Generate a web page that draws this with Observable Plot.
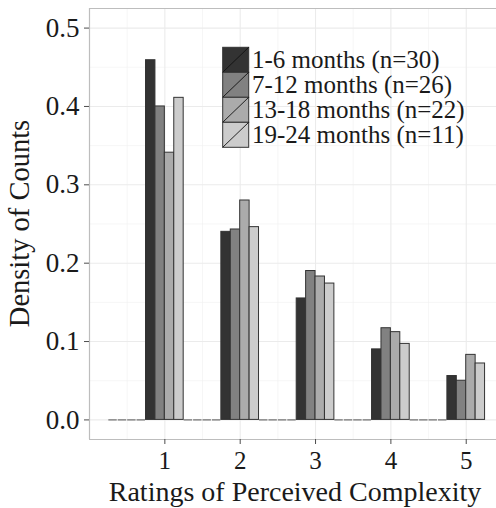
<!DOCTYPE html>
<html><head><meta charset="utf-8">
<script src="https://cdn.jsdelivr.net/npm/d3@7"></script>
<script src="https://cdn.jsdelivr.net/npm/@observablehq/plot@0.6"></script>
<style>body{margin:0;background:#fff} #chart{position:relative;width:496px;height:508px;overflow:hidden}</style>
</head><body><div id="chart"></div>
<script>
// ---- data ----
const ratings = [1, 2, 3, 4, 5];
const groups = ["1-6 months (n=30)", "7-12 months (n=26)", "13-18 months (n=22)", "19-24 months (n=11)"];
const density_1_6   = [0.459, 0.240, 0.155, 0.090, 0.056];
const density_7_12  = [0.400, 0.243, 0.190, 0.117, 0.050];
const density_13_18 = [0.341, 0.280, 0.183, 0.112, 0.083];
const density_19_24 = [0.411, 0.246, 0.174, 0.097, 0.072];
const emptyBins = [0.5, 1.5, 2.5, 3.5, 4.5];
const yTicks = [0, 0.1, 0.2, 0.3, 0.4, 0.5];
const yMinor = [0.05, 0.15, 0.25, 0.35, 0.45];
const xMinor = [0.5, 1.5, 2.5, 3.5, 4.5, 5.5];
const fills = ["#333333", "#818181", "#ABABAB", "#CCCCCC"];
const binWidth = 0.5;

// ---- tables ----
const series = [density_1_6, density_7_12, density_13_18, density_19_24];
const sub = binWidth / groups.length;
const bars = [];
ratings.forEach((r, ri) => series.forEach((vals, gi) => {
  bars.push({group: groups[gi], x1: r - binWidth / 2 + gi * sub, x2: r - binWidth / 2 + (gi + 1) * sub, value: vals[ri]});
}));
const zeroBars = [];
emptyBins.forEach(c => groups.forEach((g, gi) => {
  zeroBars.push({group: g, x1: c - binWidth / 2 + gi * sub, x2: c - binWidth / 2 + (gi + 1) * sub});
}));

const W = 496, H = 508;
const plot = Plot.plot({
  width: W, height: H,
  marginLeft: 89, marginTop: 8, marginBottom: 69, marginRight: 0,
  x: {domain: [0, 5.5], range: [89, 503.4]},
  y: {domain: [-0.025, 0.525], range: [439, 8]},
  color: {domain: groups, range: fills},
  style: {fontFamily: "Liberation Serif", background: "white", color: "#1a1a1a"},
  marks: [
    Plot.gridX(xMinor, {stroke: "#f0f0f0", strokeOpacity: 1, strokeWidth: 0.6}),
    Plot.gridY(yMinor, {stroke: "#f0f0f0", strokeOpacity: 1, strokeWidth: 0.6}),
    Plot.gridX(ratings, {stroke: "#ebebeb", strokeOpacity: 1, strokeWidth: 1.1}),
    Plot.gridY(yTicks, {stroke: "#ebebeb", strokeOpacity: 1, strokeWidth: 1.1}),
    Plot.ruleY(zeroBars, {y: 0, x1: "x1", x2: "x2", stroke: "#555", strokeWidth: 1, insetLeft: 0.5, insetRight: 0.5}),
    Plot.rect(bars, {x1: "x1", x2: "x2", y1: 0, y2: "value", fill: "group", stroke: "#333", strokeWidth: 1}),
    Plot.ruleY([-0.025, 0.525], {stroke: "#bdbdbd", strokeWidth: 1.2}),
    Plot.ruleX([0], {stroke: "#bdbdbd", strokeWidth: 1.2}),
    Plot.axisY(yTicks, {tickFormat: d3.format(".1f"), tickSize: 5, tickPadding: 5, fontSize: 27, label: null, stroke: "#4d4d4d", fill: "#1a1a1a"}),
    Plot.axisX(ratings, {tickSize: 5, tickPadding: 7, fontSize: 25, label: null, stroke: "#4d4d4d", fill: "#1a1a1a"})
  ]
});
document.getElementById("chart").appendChild(plot);

const svg = d3.select(plot);
// axis titles
svg.append("text").attr("transform", "translate(295,500.5)").attr("text-anchor", "middle")
  .attr("font-size", 28).attr("fill", "#1a1a1a").text("Ratings of Perceived Complexity");
svg.append("text").attr("transform", "translate(29,223.5) rotate(-90)").attr("text-anchor", "middle")
  .attr("font-size", 28.5).attr("fill", "#1a1a1a").text("Density of Counts");

// legend
const lg = svg.append("g");
const kx = 222.7, ky = 47.3, kw = 26, kh = 25;
groups.forEach((g, i) => {
  const y = ky + i * kh;
  lg.append("rect").attr("x", kx).attr("y", y).attr("width", kw).attr("height", kh)
    .attr("fill", fills[i]).attr("stroke", "#333").attr("stroke-width", 1);
  lg.append("line").attr("x1", kx).attr("y1", y + kh).attr("x2", kx + kw).attr("y2", y)
    .attr("stroke", "#111").attr("stroke-width", 0.9);
  lg.append("text").attr("x", 252).attr("y", y + kh / 2 + 8.5).attr("font-size", 25)
    .attr("text-anchor", "start").attr("fill", "#1a1a1a").text(g);
});
</script>
</body></html>
